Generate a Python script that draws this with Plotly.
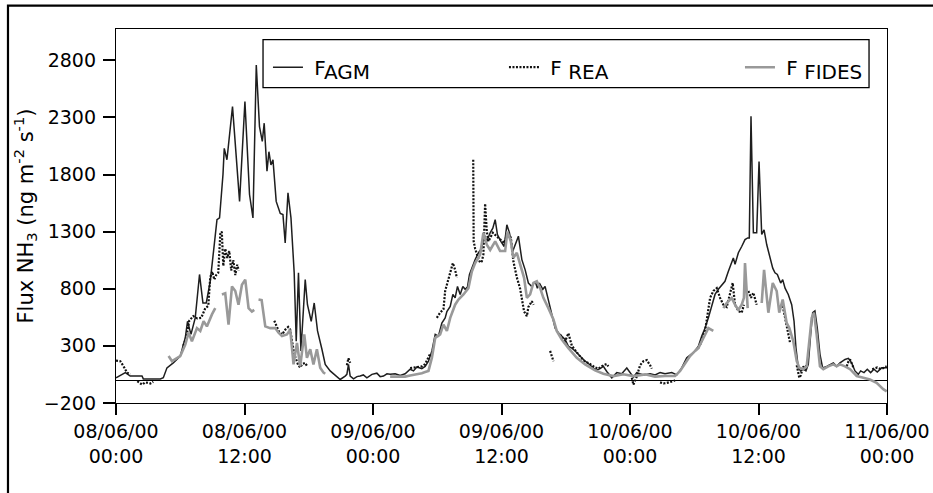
import pandas as pd
import plotly.graph_objects as go

START = pd.Timestamp("2000-06-08 00:00")

# ---------------- data (hours since 08/06/00 00:00, flux ng m-2 s-1) ----------------
agm_hours = [0.0, 0.87, 1.33, 2.43, 2.55, 4.14, 4.42, 4.76, 5.35, 6.00, 6.47, 6.68, 7.00, 7.40, 7.80,
             8.12, 8.43, 8.80, 9.11, 9.43, 9.67, 9.99, 10.11, 10.36, 10.88, 11.54, 12.04, 12.47, 12.79,
             13.10, 13.40, 13.66, 13.84, 14.10, 14.28, 14.47, 14.66, 14.96, 15.34, 15.59, 15.80, 16.06,
             16.34, 16.64, 16.83, 17.04, 17.27, 17.67, 17.88, 18.23, 18.51, 18.82, 19.23, 19.54, 20.00,
             20.63, 20.94, 21.40, 21.56, 21.71, 21.87, 22.18, 22.50, 22.80, 23.10, 23.43, 23.90, 24.36,
             24.67, 24.98, 25.30, 25.60, 26.07, 26.54, 27.00, 27.47, 27.78, 28.10, 28.56, 28.87, 29.18,
             29.50, 29.81, 30.11, 30.43, 30.74, 30.90, 31.21, 31.46, 31.67, 31.89, 32.14, 32.39, 32.61,
             32.82, 33.01, 33.32, 33.54, 33.85, 34.16, 34.38, 34.63, 34.94, 35.19, 35.41, 35.62, 35.94,
             36.25, 36.50, 36.74, 37.06, 37.27, 37.58, 37.90, 38.21, 38.51, 38.83, 39.14, 39.35, 39.54,
             39.86, 40.07, 40.38, 40.70, 41.01, 41.31, 41.63, 41.94, 42.25, 42.57, 42.87, 43.18, 43.50,
             43.81, 44.11, 44.43, 44.83, 45.21, 45.51, 45.83, 46.30, 46.77, 47.23, 47.70, 48.01, 48.32,
             48.63, 49.25, 49.88, 50.34, 50.81, 51.27, 51.90, 52.37, 52.83, 53.30, 53.92, 54.38, 54.70,
             55.01, 55.32, 55.63, 55.94, 56.25, 56.57, 56.87, 57.18, 57.50, 57.65, 57.81, 58.12, 58.43,
             58.74, 58.99, 59.14, 59.30, 59.52, 59.83, 60.05, 60.30, 60.52, 60.77, 61.08, 61.33, 61.54,
             61.76, 62.07, 62.26, 62.48, 62.78, 63.10, 63.32, 63.50, 63.72, 63.94, 64.18, 64.43, 64.65,
             64.87, 65.06, 65.27, 65.49, 65.74, 65.99, 66.37, 66.68, 66.99, 67.30, 67.61, 68.08, 68.39,
             68.70, 69.01, 69.32, 69.54, 69.85, 70.16, 70.47, 70.78, 71.09, 71.50, 72.00]
agm_flux = [20, 65, 35, 35, 10, 10, 20, 107, 150, 210, 370, 515, 400, 545, 925,
            675, 675, 865, 1130, 1405, 1420, 1800, 2030, 1930, 2395, 1565, 2440, 1625, 1420,
            2760, 2220, 2090, 2250, 1830, 2000, 1885, 1930, 1565, 1460, 1450, 1200, 1640,
            1420, 940, 340, 940, 255, 880, 660, 515, 675, 430, 270, 137, 80,
            35, 5, 35, 50, 137, 35, 10, 30, 35, 45, 20, 50, 60,
            30, 35, 55, 50, 55, 40, 55, 95, 80, 115, 100, 120, 165,
            255, 400, 385, 500, 545, 600, 645, 750, 720, 820, 750, 820, 795,
            815, 925, 1010, 1055, 1115, 1155, 1275, 1215, 1290, 1330, 1405, 1275, 1215,
            1170, 1360, 1290, 1130, 1185, 1260, 1055, 965, 850, 820, 865, 805, 850,
            795, 820, 705, 590, 455, 415, 385, 355, 295, 280, 255, 225, 195,
            165, 145, 120, 85, 100, 120, 75, 20, 65, 55, 105, 70, 25,
            65, 45, 55, 45, 65, 55, 65, 45, 107, 195, 240, 295, 385,
            455, 545, 660, 750, 795, 835, 865, 950, 1040, 1070, 1015, 1115, 1170,
            1230, 1245, 1245, 2310, 1290, 1290, 1915, 1275, 1315, 1185, 1070, 980, 940,
            925, 850, 880, 805, 750, 660, 515, 280, 107, 80, 95, 80, 137,
            400, 590, 605, 455, 225, 107, 120, 137, 150, 120, 150, 180, 190,
            150, 80, 50, 80, 65, 95, 65, 95, 70, 107, 107]

rea_hours = [
    [0.0, 0.40, 0.71, 1.03, 1.33],
    [1.99, 2.27, 2.43, 2.73, 3.20, 3.48],
    [6.28, 6.56, 6.84, 7.22, 7.59, 7.96, 8.34, 8.62, 8.80, 8.99, 9.18, 9.36, 9.55, 9.74, 9.88,
     10.02, 10.20, 10.39, 10.58, 10.76, 10.95, 11.14, 11.32, 11.46],
    [14.78, 14.96, 15.24, 15.52, 15.80, 16.08, 16.27, 16.46, 16.64, 16.83, 17.02, 17.20, 17.39, 17.67, 17.86],
    [21.56, 21.71, 21.87],
    [27.47, 27.78, 28.10, 28.56, 28.87, 29.18, 29.34],
    [29.96, 30.27, 30.58, 30.74, 30.90, 31.21, 31.46, 31.67, 31.83],
    [33.36, 33.40, 33.54, 33.70, 33.85, 34.01, 34.16, 34.31, 34.47, 34.63, 34.78, 35.19, 35.62, 36.25,
     36.50, 36.87, 37.11, 37.43, 37.74, 37.90, 38.11, 38.37, 38.51, 38.83, 39.00],
    [40.54, 40.70, 40.85],
    [41.47, 41.63, 41.94, 42.25, 42.57, 42.87, 43.18, 43.50, 43.81, 44.11, 44.43, 44.74, 45.05, 45.51, 45.83, 45.98],
    [48.17, 48.32, 48.63, 48.94, 49.25, 49.57, 49.88, 50.03],
    [50.81, 51.12, 51.43, 51.74, 52.05, 52.21],
    [54.38, 54.70, 55.01, 55.22, 55.48, 55.78, 56.10, 56.41, 56.72, 57.03, 57.34, 57.59, 57.81, 58.12, 58.43, 58.64],
    [59.05, 59.30, 59.52, 59.83],
    [62.26, 62.48, 62.63, 62.78, 62.94],
    [63.57, 63.72, 63.81, 63.94, 64.18, 64.34, 64.50],
    [68.24, 68.39, 68.55, 68.70, 68.86],
    [70.62, 70.78, 71.09, 71.34, 71.65, 71.97],
]
rea_flux = [
    [170, 165, 120, 65, 50],
    [-10, -30, -40, -20, -30, -15],
    [300, 370, 520, 560, 540, 545, 630, 650, 900, 950, 880, 920, 940, 1280, 1300,
     1000, 1150, 1070, 1130, 960, 1050, 920, 1010, 960],
    [520, 480, 420, 400, 440, 465, 440, 330, 230, 180, 130, 110, 140, 150, 120],
    [130, 190, 150],
    [105, 110, 115, 120, 140, 200, 230],
    [545, 590, 620, 780, 835, 940, 1025, 965, 895],
    [1930, 1215, 1150, 1100, 1060, 1030, 1040, 1100, 1545, 1300, 1215, 1290, 1250, 1200,
     1270, 1250, 1040, 900, 800, 720, 600, 560, 640, 690, 660],
    [255, 210, 165],
    [400, 370, 340, 410, 300, 260, 225, 190, 160, 150, 130, 110, 100, 130, 140, 120],
    [20, -40, 30, 130, 165, 175, 130, 100],
    [-20, -30, -25, -20, -10, 0],
    [280, 340, 430, 545, 720, 780, 805, 720, 660, 640, 750, 850, 660, 605, 590, 660],
    [780, 720, 765, 660],
    [650, 540, 470, 400, 330],
    [130, 60, 20, 40, 120, 90, 140],
    [120, 160, 180, 140, 110],
    [95, 100, 110, 100, 105, 120],
]

fides_hours = [
    [4.91, 5.23, 6.00, 6.47, 6.78, 7.09, 7.56, 7.87, 8.18, 8.49, 8.96, 9.27],
    [9.89, 10.20, 10.51, 10.83, 11.14, 11.44, 11.76, 12.07, 12.38, 12.69, 12.91],
    [13.31, 13.60, 13.94, 14.40, 14.87, 15.18, 15.50, 15.96, 16.27, 16.58, 16.90, 17.20, 17.58, 17.83,
     18.14, 18.44, 18.76, 19.07, 19.38, 19.54],
    [25.60, 26.07, 26.54, 27.00, 27.47, 27.78, 28.10, 28.56, 28.87, 29.18, 29.50, 29.81, 30.27, 30.58,
     30.90, 31.21, 31.67, 31.98, 32.45, 32.91, 33.23, 33.54, 34.01, 34.31, 34.63, 34.94, 35.41, 35.87,
     36.34, 36.55, 36.87, 37.11, 37.43, 37.74, 38.11, 38.37, 38.67, 38.98, 39.30, 39.61, 39.91, 40.38,
     40.85, 41.16, 41.63, 42.25, 43.03, 43.81, 44.74, 45.51, 46.45, 47.38, 47.85, 48.32, 49.41, 50.34,
     51.27, 52.21, 52.68, 53.14, 53.61, 54.08, 54.38, 54.70, 55.01, 55.32, 55.78],
    [56.72, 57.03, 57.50, 57.81, 58.12, 58.43, 58.64, 58.74, 58.99],
    [60.30, 60.52, 60.92, 61.33, 61.70, 61.94, 62.26, 62.63, 62.88, 63.25, 63.57, 63.81, 64.18, 64.50,
     64.97, 65.18, 65.43, 65.74, 66.05, 66.52, 66.99, 67.30, 67.61, 68.08, 68.55, 69.17, 69.79, 70.41,
     71.03, 71.34, 71.65, 71.97],
]
fides_flux = [
    [210, 165, 210, 310, 415, 340, 455, 430, 515, 470, 575, 630],
    [750, 760, 485, 820, 780, 660, 835, 880, 630, 600, 615],
    [705, 700, 470, 455, 455, 415, 385, 400, 440, 137, 325, 120, 400, 195, 270, 137, 270, 107, 65, 55],
    [30, 30, 35, 30, 40, 45, 50, 60, 70, 80, 195, 370, 400, 485, 430, 545, 660, 705, 750, 805, 950,
     1025, 1100, 1290, 1185, 1140, 1215, 1130, 1130, 1300, 1215, 1070, 1115, 1010, 895, 720, 750, 850,
     865, 805, 720, 630, 530, 430, 355, 280, 195, 137, 85, 55, 35, 50, 40, 35, 50, 30, 35, 35, 80, 150,
     210, 255, 280, 340, 400, 455, 430],
    [630, 675, 720, 660, 615, 660, 720, 1025, 630],
    [675, 965, 590, 850, 780, 590, 705, 500, 455, 340, 165, 107, 95, 120, 545, 590, 400, 120, 95, 120,
     137, 120, 137, 120, 95, 35, 20, 5, -25, -55, -80, -100],
]

series_names = ["\u00a0F<sub><span style='font-size:20px'>AGM</span></sub>",
                "\u00a0F <sub><span style='font-size:20px'>REA</span></sub>",
                "\u00a0F <sub><span style='font-size:20px'>FIDES</span></sub>"]
x_tick_hours = [0, 12, 24, 36, 48, 60, 72]
x_tick_labels = ["08/06/00<br>00:00", "08/06/00<br>12:00", "09/06/00<br>00:00", "09/06/00<br>12:00",
                 "10/06/00<br>00:00", "10/06/00<br>12:00", "11/06/00<br>00:00"]
y_ticks = [-200, 300, 800, 1300, 1800, 2300, 2800]
y_range = [-201, 3075]
y_title = "Flux NH<sub>3</sub> (ng m<sup>-2</sup> s<sup>-1</sup>)"


def to_time(h):
    return START + pd.Timedelta(hours=h)


def join_segments(hours_segs, flux_segs):
    xs, ys = [], []
    last = None
    for hs, fs in zip(hours_segs, flux_segs):
        if last is not None:
            xs.append(to_time((last + hs[0]) / 2))
            ys.append(None)
        xs.extend(to_time(h) for h in hs)
        ys.extend(fs)
        last = hs[-1]
    return xs, ys


rea_x, rea_y = join_segments(rea_hours, rea_flux)
fides_x, fides_y = join_segments(fides_hours, fides_flux)
agm_x = [to_time(h) for h in agm_hours]

FONT = "DejaVu Sans, Verdana, sans-serif"

fig = go.Figure()
fig.add_trace(go.Scatter(x=agm_x, y=agm_flux, mode="lines", name=series_names[0],
                         line=dict(color="#1e1e1e", width=1.5), legendwidth=191))
fig.add_trace(go.Scatter(x=rea_x, y=rea_y, mode="lines", name=series_names[1],
                         line=dict(color="#111111", width=2.2, dash="2px,1.5px"), legendwidth=191,
                         connectgaps=False))
fig.add_trace(go.Scatter(x=fides_x, y=fides_y, mode="lines", name=series_names[2],
                         line=dict(color="#999999", width=2.6), connectgaps=False))

fig.update_layout(
    width=933, height=493,
    margin=dict(l=116, r=46, t=29, b=90),
    paper_bgcolor="white", plot_bgcolor="white",
    font=dict(family=FONT, size=19, color="black"),
    showlegend=True,
    legend=dict(orientation="h", x=0.1971, y=0.9500, xanchor="left", yanchor="top",
                borderwidth=0, bgcolor="rgba(0,0,0,0)",
                font=dict(family=FONT, size=20, color="black"), itemwidth=30),
    xaxis=dict(type="date", range=[to_time(0), to_time(72)], automargin=False,
               tickvals=[to_time(h) for h in x_tick_hours], ticktext=x_tick_labels,
               ticks="outside", ticklen=11, tickwidth=2, tickcolor="black",
               showline=True, linecolor="black", linewidth=1.3, mirror=True,
               showgrid=False, zeroline=False,
               tickfont=dict(family=FONT, size=19, color="black")),
    yaxis=dict(range=y_range, tickvals=y_ticks, automargin=False,
               ticks="outside", ticklen=12, tickwidth=1.5, tickcolor="black",
               ticklabelstandoff=3,
               showline=True, linecolor="black", linewidth=1.3, mirror=True,
               showgrid=False, zeroline=True, zerolinecolor="black", zerolinewidth=1.2,
               tickfont=dict(family=FONT, size=19, color="black"),
               title=dict(text=y_title, font=dict(family=FONT, size=21, color="black"), standoff=4)),
    shapes=[
        # outer frame around the whole figure
        dict(type="rect", xref="paper", yref="paper", x0=-0.1401, x1=1.08, y0=-0.26, y1=1.0623,
             line=dict(color="black", width=2.2), fillcolor="rgba(0,0,0,0)"),
        # legend box
        dict(type="rect", xref="paper", yref="paper", x0=0.1907, x1=0.9767, y0=0.8431, y1=0.9714,
             line=dict(color="black", width=1.3), fillcolor="white", layer="above"),
    ],
)

fig.write_html("out.html")
